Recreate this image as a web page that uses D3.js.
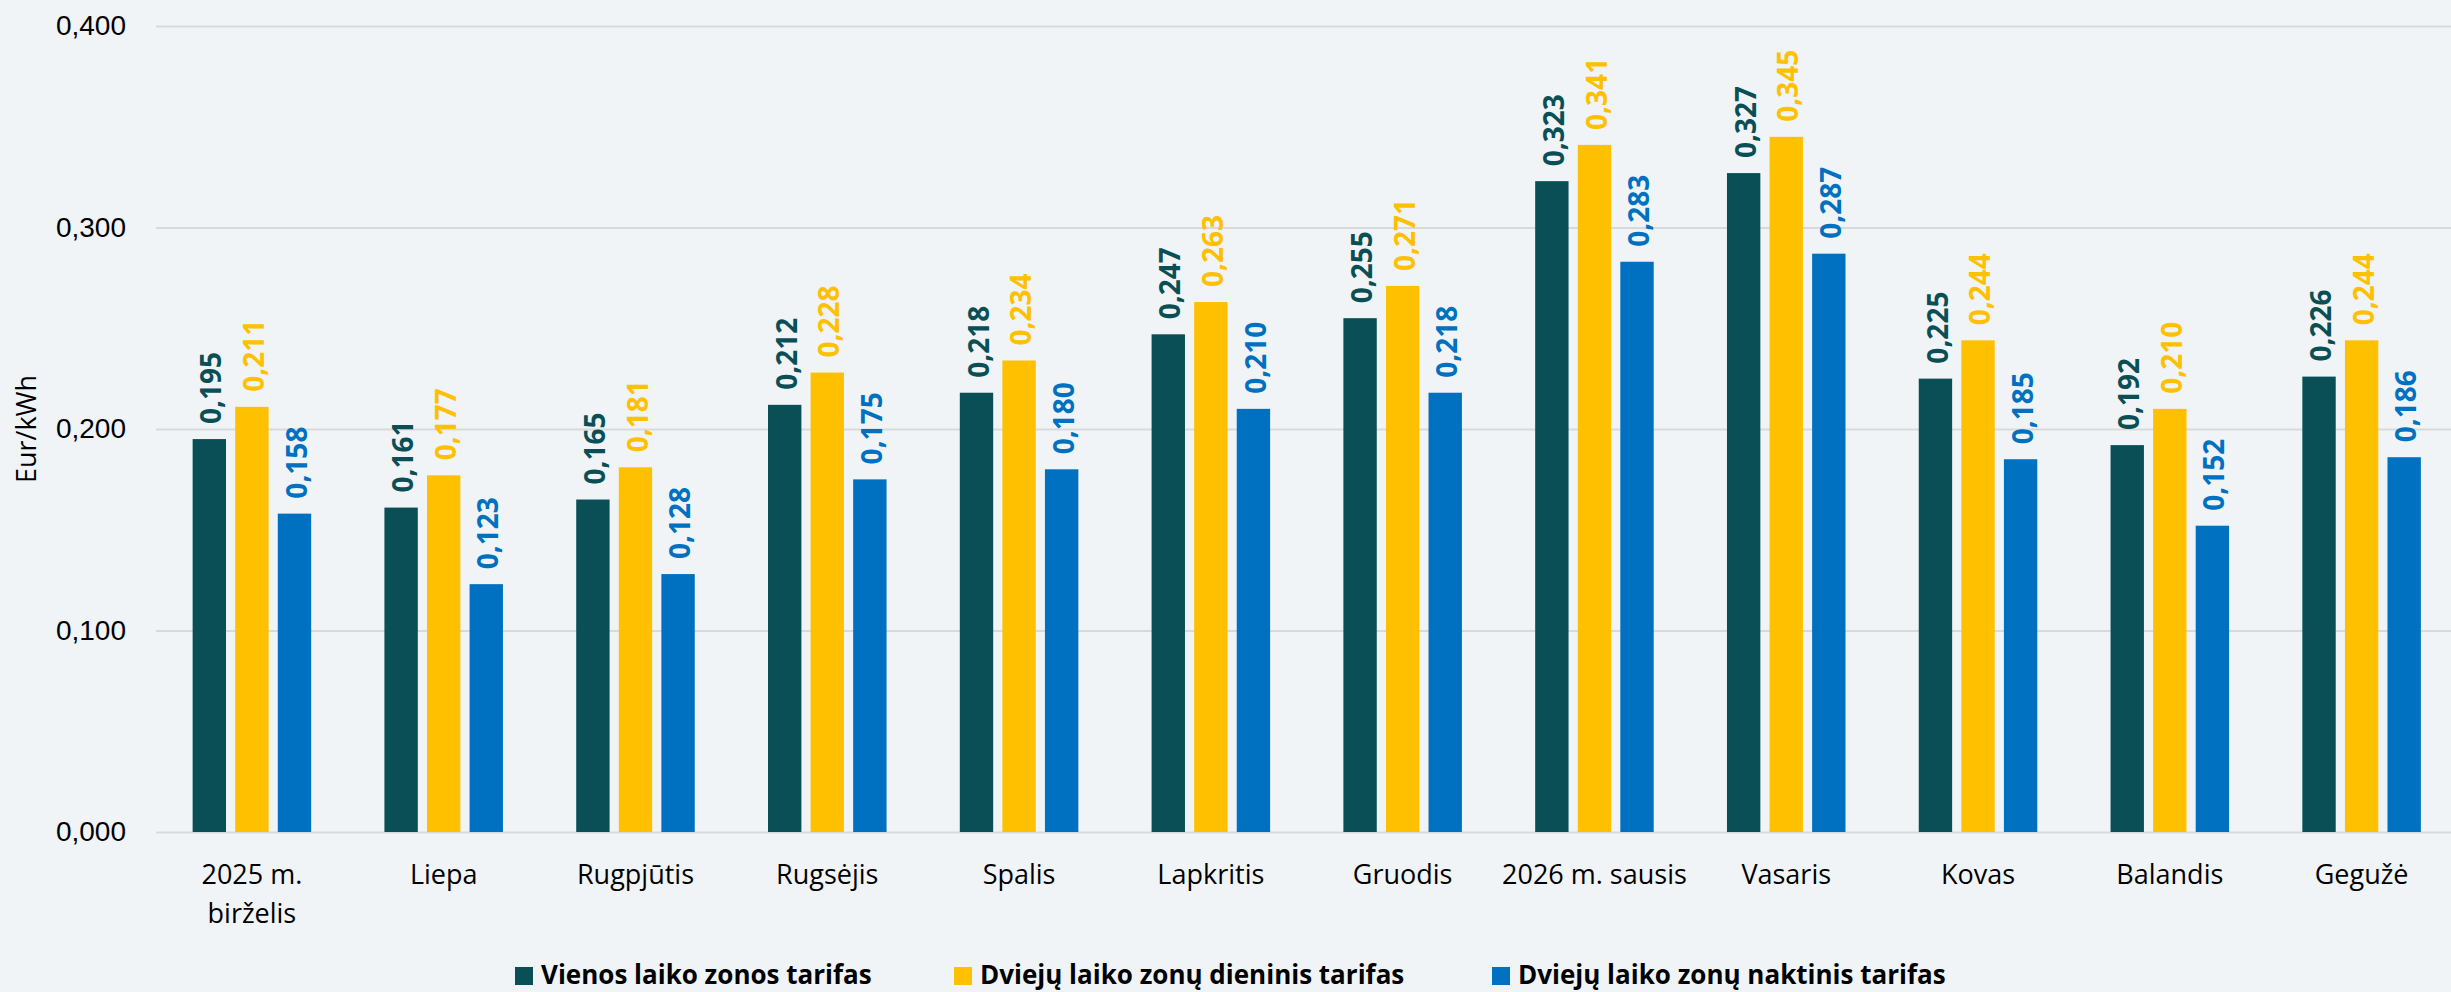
<!DOCTYPE html>
<html>
<head>
<meta charset="utf-8">
<script src="https://cdn.jsdelivr.net/npm/d3@7"></script>
<style>
  body { margin: 0; background: #f0f4f7; }
  svg { display: block; }
</style>
</head>
<body>
<div id="chart"></div>
<script>
// data
var categories = ["2025 m. birželis", "Liepa", "Rugpjūtis", "Rugsėjis", "Spalis", "Lapkritis",
    "Gruodis", "2026 m. sausis", "Vasaris", "Kovas", "Balandis", "Gegužė"];
var seriesNames = ["Vienos laiko zonos tarifas", "Dviejų laiko zonų dieninis tarifas", "Dviejų laiko zonų naktinis tarifas"];
var vienos = [0.195, 0.161, 0.165, 0.212, 0.218, 0.247, 0.255, 0.323, 0.327, 0.225, 0.192, 0.226];
var dieninis = [0.211, 0.177, 0.181, 0.228, 0.234, 0.263, 0.271, 0.341, 0.345, 0.244, 0.210, 0.244];
var naktinis = [0.158, 0.123, 0.128, 0.175, 0.180, 0.210, 0.218, 0.283, 0.287, 0.185, 0.152, 0.186];
var yTicks = [0, 0.1, 0.2, 0.3, 0.4];

var colors = ["#0a4f55", "#ffc000", "#0070c0"];
var seriesValues = [vienos, dieninis, naktinis];

var svgWidth = 2451;
var svgHeight = 992;

var svg = d3.select("#chart")
    .append("svg")
    .attr("width", svgWidth)
    .attr("height", svgHeight)
    .style("font-family", "'Open Sans', sans-serif");

svg.append("rect")
    .attr("width", svgWidth)
    .attr("height", svgHeight)
    .attr("fill", "#f0f4f7");

var x0 = d3.scaleBand()
    .domain(categories)
    .range([156, 2457.5])
    .paddingInner(0.382)
    .paddingOuter(0.191);

var x1 = d3.scaleBand()
    .domain(d3.range(3))
    .range([0, x0.bandwidth()])
    .paddingInner(0.216);

var y = d3.scaleLinear()
    .domain([0, 0.4])
    .range([832, 26]);

var fmt = function (v) { return d3.format(".3f")(v).replace(".", ","); };

// gridlines + y labels
var yAxis = d3.axisLeft(y)
    .tickValues(yTicks)
    .tickSize(-(2460 - 156))
    .tickPadding(30)
    .tickFormat(fmt);

var gy = svg.append("g")
    .attr("transform", "translate(156,0)")
    .call(yAxis);
gy.select(".domain").remove();
gy.selectAll(".tick line")
    .attr("stroke", "#d9d9d9")
    .attr("stroke-width", 2);
gy.selectAll(".tick text")
    .attr("fill", "#000")
    .style("font-size", "28px");

svg.append("text")
    .attr("transform", "translate(36,429) rotate(-90)")
    .attr("text-anchor", "middle")
    .style("font-size", "27px")
    .text("Eur/kWh");

// bars
var groups = svg.selectAll("g.group")
    .data(categories)
    .enter()
    .append("g")
    .attr("class", "group")
    .attr("transform", function (d) {
        return "translate(" + x0(d) + ",0)";
    });

groups.selectAll("rect")
    .data(function (d, i) {
        return seriesValues.map(function (s, k) { return { k: k, v: s[i] }; });
    })
    .enter()
    .append("rect")
    .attr("x", function (d) { return x1(d.k); })
    .attr("width", x1.bandwidth())
    .attr("y", function (d) { return y(d.v); })
    .attr("height", function (d) { return y(0) - y(d.v); })
    .attr("fill", function (d) { return colors[d.k]; });

groups.selectAll("text.val")
    .data(function (d, i) {
        return seriesValues.map(function (s, k) { return { k: k, v: s[i] }; });
    })
    .enter()
    .append("text")
    .attr("class", "val")
    .attr("transform", function (d) {
        var cx = x1(d.k) + x1.bandwidth() / 2 + 2;
        return "translate(" + cx + "," + (y(d.v) - 15) + ") rotate(-90)";
    })
    .attr("dy", "0.36em")
    .attr("fill", function (d) { return colors[d.k]; })
    .style("font-size", "28px")
    .style("font-weight", "bold")
    .text(function (d) { return fmt(d.v); });

// category labels
var labels = svg.selectAll("text.cat")
    .data(categories)
    .enter()
    .append("text")
    .attr("class", "cat")
    .attr("text-anchor", "middle")
    .attr("x", function (d) { return x0(d) + x0.bandwidth() / 2; })
    .attr("y", 884)
    .style("font-size", "27px");

labels.each(function (d) {
    var lines = d === "2025 m. birželis" ? ["2025 m.", "birželis"] : [d];
    var t = d3.select(this);
    lines.forEach(function (l, i) {
        t.append("tspan")
            .attr("x", t.attr("x"))
            .attr("dy", i === 0 ? 0 : 39)
            .text(l);
    });
});

// legend
var legendX = [515, 954, 1492];
var legend = svg.selectAll("g.legend")
    .data(seriesNames)
    .enter()
    .append("g")
    .attr("class", "legend")
    .attr("transform", function (d, i) {
        return "translate(" + legendX[i] + ",967)";
    });

legend.append("rect")
    .attr("width", 18)
    .attr("height", 18)
    .attr("fill", function (d, i) { return colors[i]; });

legend.append("text")
    .attr("x", 26)
    .attr("y", 17)
    .style("font-size", "26px")
    .style("font-weight", "bold")
    .text(function (d) { return d; });
</script>
</body>
</html>
